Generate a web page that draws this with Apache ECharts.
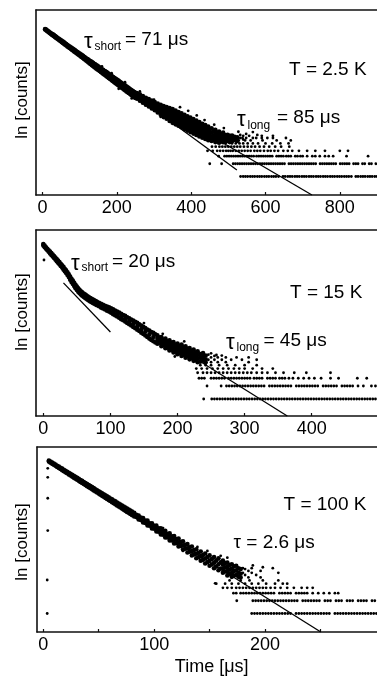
<!DOCTYPE html>
<html>
<head>
<meta charset="utf-8">
<script src="https://cdn.jsdelivr.net/npm/echarts@6/dist/echarts.min.js"></script>
<style>
  html, body { margin: 0; padding: 0; background: #fff; }
  #chart { width: 377px; height: 679px; }
</style>
</head>
<body>
<div id="chart"></div>
<script>
// ln(counts) of the discrete low-count levels (1, 2, 3, ... counts)
const lnLevels = [0, 0.69, 1.10, 1.39, 1.61, 1.79, 1.95, 2.08];

// ---------- T = 2.5 K ----------
const p1Ticks = [0, 200, 400, 600, 800];
// dense decay cloud: each row is [time, ln counts, ln counts, ...]
const p1Cloud = [
  [7,7.97,7.95],[10,7.94,7.90],[13,7.89,7.85],[16,7.85,7.81],[19,7.80,7.76],[22,7.76,7.71],[25,7.72,7.66],[28,7.68,7.62],
  [31,7.64,7.58],[34,7.59,7.53],[37,7.55,7.49],[40,7.50,7.44],[43,7.46,7.40],[46,7.41,7.35],[49,7.37,7.31],[52,7.33,7.26],
  [55,7.29,7.21],[58,7.25,7.17],[61,7.20,7.12],[64,7.16,7.08],[67,7.11,7.03],[70,7.07,6.99],[73,7.03,6.95],[76,6.98,6.90],
  [79,6.94,6.85],[82,6.90,6.81],[85,6.86,6.76],[88,6.82,6.72],[91,6.77,6.67],[94,6.73,6.63],[97,6.68,6.58],[100,6.64,6.54],
  [103,6.60,6.49],[106,6.56,6.45],[109,6.52,6.40],[112,6.47,6.35],[115,6.43,6.31],[118,6.38,6.26],
  [121,6.35,6.21],[124,6.31,6.16],[127,6.26,6.11],[130,6.23,6.07],[133,6.18,6.01],[136,6.15,5.97],[139,6.09,5.92],[142,6.06,5.88],
  [145,6.01,5.83],[148,5.98,5.79],[151,5.93,5.74],[154,5.89,5.70],[157,5.85,5.65],[160,5.80,5.61],[163,5.77,5.56],[166,5.72,5.51],
  [169,5.68,5.47],[172,5.64,5.42],[175,5.60,5.38],[178,5.55,5.33],[181,5.51,5.28],[184,5.47,5.24],[187,5.42,5.19],[190,5.38,5.15],
  [193,5.34,5.10],[196,5.30,5.05],[199,5.25,5.01],[202,5.21,4.96],[205,5.17,4.92],[208,5.12,4.87],[211,5.08,4.83],[214,5.04,4.78],
  [217,4.99,4.74],[220,4.95,4.69],[223,4.91,4.65],[226,4.86,4.60],[229,4.82,4.56],[232,4.78,4.51],[235,4.73,4.47],[238,4.69,4.42],
  [241,4.65,4.38],[244,4.60,4.33],[247,4.56,4.29],[250,4.52,4.24],
  [254,4.51,4.41,4.31,4.21],[258,4.41,4.31,4.21],[262,4.44,4.32,4.21,4.10],[266,4.33,4.22,4.11],[270,4.35,4.23,4.11,3.99],
  [274,4.24,4.12,4.00],[278,4.26,4.14,4.01,3.88],[282,4.16,4.03,3.90],[286,4.18,4.05,3.92,3.78],[290,4.07,3.93,3.80],
  [294,4.10,3.96,3.82,3.68],[298,3.98,3.84,3.70],[302,4.02,3.87,3.73,3.58],[306,3.90,3.75,3.60],[310,3.94,3.78,3.62,3.46],
  [314,3.81,3.65,3.49],[318,3.88,3.70,3.52,3.34],[322,3.74,3.56,3.38],[326,3.81,3.61,3.41,3.21],[330,3.67,3.47,3.27],
  [334,3.75,3.54,3.33,3.12],[338,3.60,3.39,3.18],[342,3.70,3.47,3.24,3.00],[346,3.54,3.31,3.08],[350,3.65,3.40,3.15,2.90],
  [354,3.48,3.23,2.98],[358,3.57,3.32,3.07,2.82],[362,3.40,3.15,2.90],[366,3.49,3.24,2.99,2.74],[370,3.32,3.07,2.82],
  [374,3.41,3.16,2.91,2.66],[378,3.24,2.99,2.74],[382,3.34,3.08,2.82,2.56],[386,3.17,2.91,2.65],[390,3.26,3.00,2.74,2.48],
  [394,3.09,2.83,2.57],[398,3.18,2.92,2.66,2.40],[402,3.01,2.75,2.49],[406,3.10,2.84,2.58,2.32],[410,2.93,2.67,2.41],
  [414,3.02,2.76,2.50,2.24],[418,2.85,2.59,2.33],[422,2.94,2.68,2.42,2.16],[426,2.77,2.51,2.25],[430,2.85,2.60,2.35,2.10],
  [434,2.69,2.44,2.19],[438,2.78,2.53,2.28,2.03],[442,2.62,2.37,2.12],[446,2.70,2.45,2.20,1.96],[450,2.55,2.30,2.05],
  [455,2.61,2.38,2.15,1.92],[460,2.45,2.22,1.99],[465,2.53,2.30,2.08,1.86],[470,2.38,2.16,1.94],[475,2.43,2.23,2.03,1.83],
  [480,2.30,2.10,1.90],[486,2.37,2.17,1.97,1.85],[492,2.24,2.04,1.86],[498,2.25,2.08,1.92],[504,2.20,2.00,1.86],
  [510,2.22,2.05,1.90],[517,2.15,1.98],[524,2.12,1.92]
];
// isolated points around the cloud and at its tail
const p1Sparse = [
  [160,5.95],[186,5.58],[205,4.74],[222,5.10],[240,4.22],[262,4.60],[300,4.15],[318,3.22],
  [370,3.75],[392,3.55],[415,3.30],[436,3.05],[462,2.80],[488,2.62],[527,2.42],[532,2.25,2.08],
  [540,2.20,2.00],[548,2.30,2.08],[556,2.20],[566,2.40,2.08],[578,2.25],[590,2.08,2.20],[605,2.08],[620,2.20,2.08]
];
// time values of the points sitting on each low-count level
const p1Levels = [
  [533,540,546,552,559,565,571,578,584,590,597,603,609,616,622,628,635,647,653,660,666,672,679,685,691,698,704,710,717,723,729,736,742,748,755,761,767,774,780,786,793,799,805,812,818,824,831,843,849,856,862,868,875,881,887,894,900],
  [450,482,513,519,525,531,537,543,549,555,561,567,573,579,585,591,597,603,609,615,621,627,633,639,645,651,663,669,675,681,687,693,699,705,711,717,723,729,735,747,753,759,765,771,777,783,789,801,807,813,819,825,837,843,849,861,867,879,885,897],
  [474,490,496,502,508,514,520,526,532,538,544,550,556,562,568,576,582,588,594,600,606,612,618,630,636,642,648,656,662,668,680,686,694,700,712,726,734,746,760,770,782,818,876],
  [444,458,470,478,486,494,500,506,512,520,528,536,544,552,560,570,578,586,596,606,614,624,634,648,660,672,690,712,734,760,800,822],
  [456,466,476,484,492,500,508,516,524,532,542,552,562,572,584,596,610,626,642,664],
  [510,520,530,540,552,566,580,600,618,640,662],
  [528,545,560,592,630,668],
  [538,575,655]
];
const p1ShortFit = [[7, 7.96], [523, 0.35]];
const p1LongFit = [[330, 3.65], [725, -1]];

// ---------- T = 15 K ----------
const p2Ticks = [0, 100, 200, 300, 400];
const p2Cloud = [
  [0,8.21,8.13],[2,8.12,8.04],[4,8.04,7.96],[6,7.96,7.88],[8,7.88,7.80],[10,7.81,7.71],[12,7.73,7.63],[14,7.65,7.55],
  [16,7.57,7.47],[18,7.49,7.39],[20,7.41,7.29],[22,7.33,7.21],[24,7.25,7.13],[26,7.16,7.04],[28,7.08,6.96],[30,7.00,6.86],
  [32,6.90,6.76],[34,6.81,6.67],[36,6.71,6.57],[38,6.60,6.46],[40,6.48,6.40,6.32],[42,6.37,6.19],[44,6.27,6.18,6.09],
  [46,6.16,5.98],[48,6.05,5.96,5.87],[50,5.95,5.77],[52,5.86,5.77,5.68],[54,5.78,5.60],[56,5.71,5.62,5.53],[58,5.65,5.47],
  [60,5.59,5.50,5.41],[62,5.54,5.36],[64,5.49,5.40,5.31],[66,5.44,5.26],[68,5.39,5.30,5.21],[70,5.35,5.17],
  [72,5.31,5.22,5.13],[74,5.27,5.09],[76,5.23,5.14,5.05],[78,5.19,5.01],[80,5.15,5.06,4.97],[83,5.09,4.91],
  [86,5.04,4.94,4.84],[89,4.99,4.79],[92,4.94,4.84,4.74],[95,4.90,4.68],[98,4.85,4.74,4.63],[101,4.81,4.57],
  [104,4.75,4.62,4.49],[107,4.69,4.43],[110,4.63,4.50,4.37],[113,4.58,4.30],[116,4.51,4.37,4.23],[119,4.45,4.17],
  [122,4.40,4.25,4.10],[125,4.33,4.03],[128,4.28,4.12,3.96],[131,4.21,3.89],[134,4.15,3.98,3.81],[137,4.09,3.75],
  [140,4.03,3.85,3.67],[143,3.96,3.60],[146,3.89,3.70,3.51],[149,3.82,3.44],[152,3.76,3.56,3.36],[155,3.68,3.28],
  [158,3.62,3.41,3.20],[161,3.55,3.13],[164,3.50,3.28,3.06],[167,3.43,2.99],
  [170,3.38,3.23,3.08,2.93],[173,3.25,3.10,2.95],[176,3.28,3.12,2.96,2.80],[179,3.15,2.99,2.83],
  [182,3.20,3.03,2.86,2.69],[185,3.06,2.89,2.72],[188,3.11,2.93,2.75,2.57],[191,2.97,2.79,2.61],
  [194,3.02,2.83,2.64,2.46],[197,2.89,2.70,2.51],[200,2.94,2.75,2.56,2.37],[203,2.81,2.62,2.43],
  [206,2.88,2.68,2.48,2.28],[209,2.74,2.54,2.34],[212,2.79,2.59,2.39,2.19],[215,2.65,2.45,2.25],
  [218,2.70,2.50,2.30,2.10],[221,2.56,2.36,2.16],[224,2.62,2.42,2.22,2.02],[227,2.47,2.27,2.07],
  [230,2.53,2.33,2.13,1.95],[234,2.38,2.18,1.98],[238,2.43,2.23,2.03],[242,2.30,2.10,1.95]
];
const p2Sparse = [
  [1,7.36],[150,4.02],[178,3.45],[196,2.25],[210,3.05],[246,2.35,2.08],[250,2.42,2.20,1.95],[255,2.28,2.08],[258,2.33],
  [260,2.20,1.95],[266,2.30,2.08],[272,2.20,1.95],[280,2.08],[288,2.20],[296,2.08],[306,2.20,1.95],[318,2.08]
];
const p2Levels = [
  [239,251,255,259,263,267,271,275,279,283,287,291,295,299,303,307,311,315,319,323,327,331,335,339,343,347,351,355,359,363,367,371,375,379,383,387,391,395,399,403,407,411,415,419,423,427,431,435,439,443,447,451,455,459,463,467,471,475,479,483,487,491,495],
  [244,265,273,277,281,285,289,293,297,301,305,309,313,317,321,325,329,337,341,345,349,353,357,361,365,369,377,381,385,389,393,397,401,405,409,417,421,425,429,433,437,445,449,453,457,461,469,477,489,495],
  [232,236,240,250,254,258,262,266,270,276,280,284,288,292,296,300,304,308,314,318,322,326,334,338,342,346,352,356,360,366,372,380,388,396,404,414,428,440,468,482],
  [230,238,244,250,256,262,268,274,280,286,292,298,304,310,318,326,334,346,358,374,392,428],
  [228,236,244,252,260,268,276,284,292,300,312,326,342],
  [234,242,250,262,274,286,300,318]
];
const p2ShortFit = [[30, 6.15], [100, 3.55]];
const p2LongFit = [[235, 1.96], [363.6, -0.9]];

// ---------- T = 100 K ----------
const p3Ticks = [0, 100, 200];
const p3MinorTicks = [0, 50, 100, 150, 200, 250];
const p3Cloud = [
  [5,8.27,8.21],[6.5,8.21,8.15],[8,8.16,8.09],[9.5,8.10,8.04],[11,8.05,7.98],[12.5,7.99,7.92],[14,7.94,7.87],[15.5,7.88,7.81],
  [17,7.83,7.75],[18.5,7.77,7.69],[20,7.72,7.63],[21.5,7.66,7.58],[23,7.61,7.52],[24.5,7.55,7.46],[26,7.50,7.40],[27.5,7.44,7.34],
  [29,7.39,7.29],[30.5,7.33,7.23],[32,7.28,7.17],[33.5,7.22,7.11],[35,7.17,7.06],[36.5,7.11,7.00],[38,7.05,6.94],[39.5,7.00,6.88],
  [41,6.94,6.83],[42.5,6.89,6.77],[44,6.83,6.71],[45.5,6.78,6.65],[47,6.72,6.60],[48.5,6.66,6.54],[50,6.61,6.48],[51.5,6.55,6.42],
  [53,6.50,6.36],[54.5,6.44,6.31],[56,6.39,6.25],[57.5,6.33,6.19],[59,6.28,6.13],[60.5,6.22,6.08],[62,6.17,6.02],[63.5,6.11,5.96],
  [65,6.06,5.90],[66.5,6.00,5.84],[68,5.95,5.79],[69.5,5.89,5.73],[71,5.84,5.67],[72.5,5.78,5.61],[74,5.73,5.55],[75.5,5.67,5.49],
  [77,5.62,5.44],[78.5,5.56,5.38],[80,5.51,5.32],
  [82,5.44,5.34,5.24],[84,5.33,5.21],[86,5.30,5.19,5.08],[88,5.18,5.06],[90,5.16,5.04,4.92],[92,5.03,4.89],
  [94,5.02,4.89,4.76],[96,4.88,4.74],[98,4.88,4.74,4.60],[100,4.74,4.58],[102,4.75,4.59,4.43],[104,4.60,4.42],
  [106,4.61,4.44,4.27],[108,4.46,4.26],[110,4.47,4.29,4.11],[112,4.31,4.11],[114,4.33,4.14,3.95],[116,4.17,3.95],
  [118,4.19,3.99,3.79],[120,4.02,3.80],[122,4.05,3.83,3.62],[124,3.87,3.65],[126,3.90,3.68,3.46],[128,3.72,3.50],
  [130,3.76,3.53,3.30],[132,3.58,3.34],[134,3.62,3.38,3.14],[136,3.43,3.19],[138,3.47,3.23,2.99],[140,3.28,3.04],
  [142,3.35,3.10,2.85],[144,3.16,2.90],[146,3.24,2.97,2.70],[148,3.05,2.77],[150,3.14,2.86,2.58],[152,2.95,2.65],
  [154,3.05,2.75,2.45],[156,2.86,2.54],[158,2.98,2.66,2.34],[160,2.77,2.43],[162,2.86,2.64,2.42,2.20],
  [164,2.73,2.50,2.27],[166,2.75,2.52,2.29,2.06],[168,2.62,2.38,2.14],[170,2.66,2.42,2.18,1.98],
  [172,2.55,2.30,2.05],[174,2.58,2.33,2.08],[176,2.45,2.20,1.98],[178,2.40,2.15,1.95]
];
// the rising edge near t = 0 and the scattered points
const p3Sparse = [
  [3.5,1.81,0],[4,7.85,7.36,6.23,4.48],[108,4.62],[126,3.38],[139,3.60],[148,3.38],[155,1.63],[160,3.12],[166,3.02],
  [180,2.45,2.20],[182,2.40,2.08],[185,2.30,1.95],[188,2.45,2.20],[189,2.60],[192,2.08],[196,2.30,1.95],
  [198,2.50],[207,2.45],[212,2.20]
];
const p3Levels = [
  [188,190.5,193,195.5,198,200.5,203,205.5,208,210.5,213,215.5,218,220.5,223,228,230.5,233,235.5,238,240.5,243,245.5,248,250.5,253,255.5,258,263,265.5,268,270.5,273,275.5,278,280.5,283,285.5,288,290.5,293,295.5,298,300.5],
  [174.5,189,191.5,194,196.5,199,201.5,204,206.5,209,211.5,214,216.5,219,221.5,224,226.5,229,234,236.5,239,241.5,244,246.5,249,254,256.5,259,264,266.5,269,274,276.5,279,284,286.5,289,291.5,296.5,299],
  [171.5,174,178,180.5,183,185.5,188,190.5,193,195.5,198,200.5,203,205.5,208,213,215.5,218,220.5,223,228,230.5,233,235.5,238,243,248,253,258,263,266],
  [162,166,170,174,177,180,183,186,189,192,195,198,201,205,209,214,220,226,233,238,243],
  [156,164,170,176,182,188,194,201,209,216,220],
  [168,178,186,198,212]
];
const p3Fit = [[4.5, 8.26], [250.3, -1]];

// ---------- assembling ----------
const FONT = 'Liberation Sans, Arial, Helvetica, sans-serif';
const rowsToPoints = rows => rows.flatMap(r => r.slice(1).map(y => [r[0], y]));
const levelPoints = lists => lists.flatMap((xs, i) => xs.map(x => [x, lnLevels[i]]));

const panels = [
  { grid: { left: 36, top: 10, width: 341, height: 185 }, xMin: -17.5, xMax: 900, yMin: -1, yMax: 9,
    labels: p1Ticks, ticks: p1Ticks, cloud: rowsToPoints(p1Cloud),
    sparse: [...rowsToPoints(p1Sparse), ...levelPoints(p1Levels)], fits: [p1ShortFit, p1LongFit] },
  { grid: { left: 36, top: 230, width: 341, height: 186 }, xMin: -10.9, xMax: 497.3, yMin: -0.9, yMax: 8.95,
    labels: p2Ticks, ticks: p2Ticks, cloud: rowsToPoints(p2Cloud),
    sparse: [...rowsToPoints(p2Sparse), ...levelPoints(p2Levels)], fits: [p2ShortFit, p2LongFit] },
  { grid: { left: 37, top: 447, width: 340, height: 185 }, xMin: -5.7, xMax: 301, yMin: -1, yMax: 9,
    labels: p3Ticks, ticks: p3MinorTicks, cloud: rowsToPoints(p3Cloud),
    sparse: [...rowsToPoints(p3Sparse), ...levelPoints(p3Levels)], fits: [p3Fit] }
];

const axisLine = { show: true, onZero: false, lineStyle: { color: '#111', width: 1.6 } };
const grid = [], xAxis = [], yAxis = [], series = [];
panels.forEach((p, i) => {
  grid.push(p.grid);
  xAxis.push({
    type: 'value', gridIndex: i, min: p.xMin, max: p.xMax, position: 'bottom',
    axisLine,
    axisTick: { show: true, inside: true, length: 3, customValues: p.ticks, lineStyle: { color: '#111', width: 1.2 } },
    axisLabel: { show: true, customValues: p.labels, color: '#000', fontSize: 18, fontFamily: FONT, margin: 4 },
    splitLine: { show: false }
  });
  xAxis.push({
    type: 'value', gridIndex: i, min: p.xMin, max: p.xMax, position: 'top',
    axisLine, axisTick: { show: false }, axisLabel: { show: false }, splitLine: { show: false }
  });
  yAxis.push({
    type: 'value', gridIndex: i, min: p.yMin, max: p.yMax,
    axisLine, axisTick: { show: false }, axisLabel: { show: false }, splitLine: { show: false }
  });
  series.push({
    type: 'scatter', xAxisIndex: 2 * i, yAxisIndex: i, data: p.cloud,
    symbol: 'circle', symbolSize: 4.6, itemStyle: { color: '#000', opacity: 1 }, silent: true
  });
  series.push({
    type: 'scatter', xAxisIndex: 2 * i, yAxisIndex: i, data: p.sparse,
    symbol: 'circle', symbolSize: 2.8, itemStyle: { color: '#000', opacity: 1 }, silent: true
  });
  p.fits.forEach(f => series.push({
    type: 'line', xAxisIndex: 2 * i, yAxisIndex: i, data: f, symbol: 'none',
    lineStyle: { color: '#000', width: 1.3 }, silent: true, z: 3
  }));
});

// text helpers for the annotations
const baseStyle = (text, size, align) => ({
  text, fill: '#000', fontSize: size, fontFamily: FONT,
  textAlign: align || 'left', textVerticalAlign: 'middle', verticalAlign: 'middle'
});
const txt = (text, x, y, size) => ({ type: 'text', x, y, silent: true, style: baseStyle(text, size) });
const vlabel = y => ({ type: 'text', x: 22, y, rotation: Math.PI / 2, silent: true, style: baseStyle('ln [counts]', 17, 'center') });

const graphic = [
  vlabel(100), vlabel(312), vlabel(542),
  { type: 'text', x: 211.7, y: 667, silent: true, style: baseStyle('Time [μs]', 18, 'center') },
  // T = 2.5 K panel
  txt('τ', 84, 41.5, 22), txt('short', 94.5, 47, 12), txt('= 71 μs', 125, 39.5, 19),
  txt('T = 2.5 K', 289, 70, 19),
  txt('τ', 237, 120, 22), txt('long', 247.5, 125.5, 12), txt('= 85 μs', 277, 118, 19),
  // T = 15 K panel
  txt('τ', 71, 263.5, 22), txt('short', 81.5, 268, 12), txt('= 20 μs', 112, 261.7, 19),
  txt('T = 15 K', 290, 293, 19),
  txt('τ', 226, 343, 22), txt('long', 236.5, 348, 12), txt('= 45 μs', 263.5, 341, 19),
  // T = 100 K panel
  txt('T = 100 K', 283.5, 505, 19),
  txt('τ = 2.6 μs', 233.5, 542.5, 19)
];

const chart = echarts.init(document.getElementById('chart'), null, { renderer: 'canvas' });
chart.setOption({
  animation: false,
  backgroundColor: '#fff',
  grid, xAxis, yAxis, series, graphic
});
</script>
</body>
</html>
